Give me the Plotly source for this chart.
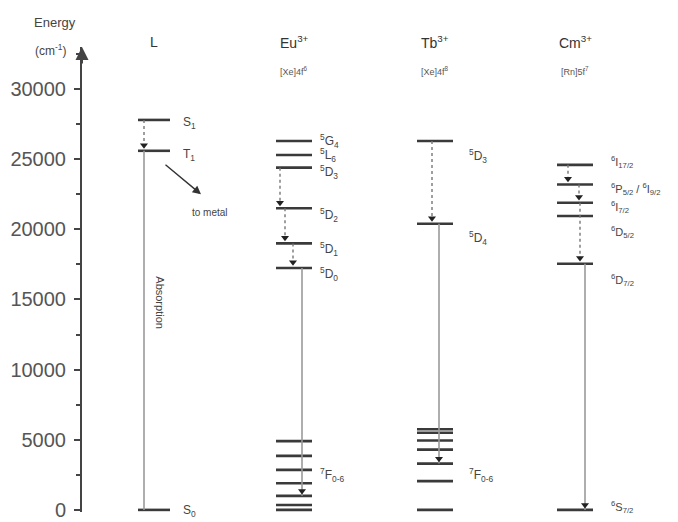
import plotly.graph_objects as go

# ---- data (energies in cm^-1) ----
tick_vals = [0, 5000, 10000, 15000, 20000, 25000, 30000]
minor_vals = [2500, 7500, 12500, 17500, 22500, 27500, 32500]
columns = ["L", "Eu<sup>3+</sup>", "Tb<sup>3+</sup>", "Cm<sup>3+</sup>"]
configs = ["", "[Xe]4f<sup>6</sup>", "[Xe]4f<sup>8</sup>", "[Rn]5f<sup>7</sup>"]

L_levels = [27800, 25600, 0]
L_labels = ["S<sub>1</sub>", "T<sub>1</sub>", "S<sub>0</sub>"]

Eu_levels = [26300, 25300, 24400, 21500, 19000, 17250, 4900, 3850, 2850, 1900, 1000, 350, 0]
Eu_labels = ["<sup>5</sup>G<sub>4</sub>", "<sup>5</sup>L<sub>6</sub>", "<sup>5</sup>D<sub>3</sub>",
             "<sup>5</sup>D<sub>2</sub>", "<sup>5</sup>D<sub>1</sub>", "<sup>5</sup>D<sub>0</sub>",
             "<sup>7</sup>F<sub>0-6</sub>"]
Eu_label_e = [26300, 25300, 24100, 21000, 18600, 16800, 2500]

Tb_levels = [26300, 20400, 5750, 5500, 4950, 4300, 3300, 2050, 0]
Tb_labels = ["<sup>5</sup>D<sub>3</sub>", "<sup>5</sup>D<sub>4</sub>", "<sup>7</sup>F<sub>0-6</sub>"]
Tb_label_e = [25200, 19400, 2500]

Cm_levels = [24600, 23200, 21900, 20950, 17550, 0]
Cm_labels = ["<sup>6</sup>I<sub>17/2</sub>", "<sup>6</sup>P<sub>5/2</sub> / <sup>6</sup>I<sub>9/2</sub>",
             "<sup>6</sup>I<sub>7/2</sub>", "<sup>6</sup>D<sub>5/2</sub>", "<sup>6</sup>D<sub>7/2</sub>",
             "<sup>6</sup>S<sub>7/2</sub>"]
Cm_label_e = [24800, 22900, 21600, 19800, 16400, 200]

# non-radiative (dashed/dotted) transitions: (column, x offset, from, to)
nonrad = [
    ("L", -10, 27800, 25600),
    ("Eu", -14, 24400, 21500),
    ("Eu", -9, 21500, 19000),
    ("Eu", -1, 19000, 17250),
    ("Tb", -3, 26300, 20400),
    ("Cm", -7, 24600, 23200),
    ("Cm", 4, 23200, 21900),
    ("Cm", 5, 21900, 17550),
]
# radiative / absorption (solid gray)
rad = [
    ("L", -10, 0, 25600, False),
    ("Eu", 8, 17250, 1000, True),
    ("Tb", 4, 20400, 3300, True),
    ("Cm", 10, 17550, 0, True),
]

# ---- layout helpers ----
centers = {"L": 154, "Eu": 294, "Tb": 435, "Cm": 575}
halfw = {"L": 16, "Eu": 18, "Tb": 18, "Cm": 18}
level_sets = {"L": L_levels, "Eu": Eu_levels, "Tb": Tb_levels, "Cm": Cm_levels}

FONT = "Liberation Sans, Arial, sans-serif"
DARK = "#3a3a3a"
GRAY = "#9a9a9a"

fig = go.Figure()

# level lines
for key, levels in level_sets.items():
    c, hw = centers[key], halfw[key]
    xs, ys = [], []
    for e in levels:
        xs += [c - hw, c + hw, None]
        ys += [e, e, None]
    fig.add_trace(go.Scatter(x=xs, y=ys, mode="lines",
                             line=dict(color=DARK, width=2.6), hoverinfo="skip"))

# radiative lines
for key, dx, e0, e1, head in rad:
    x = centers[key] + dx
    fig.add_trace(go.Scatter(x=[x, x], y=[e0, e1], mode="lines",
                             line=dict(color=GRAY, width=1.6), hoverinfo="skip"))
    if head:
        fig.add_trace(go.Scatter(x=[x], y=[e1 + 350], mode="markers",
                                 marker=dict(symbol="triangle-down", size=7, color="#222"),
                                 hoverinfo="skip"))

# non-radiative dashed arrows
for key, dx, e0, e1 in nonrad:
    x = centers[key] + dx
    fig.add_trace(go.Scatter(x=[x, x], y=[e0, e1 + 300], mode="lines",
                             line=dict(color="#777", width=1.4, dash="dot"), hoverinfo="skip"))
    fig.add_trace(go.Scatter(x=[x], y=[e1 + 400], mode="markers",
                             marker=dict(symbol="triangle-down", size=7, color="#222"),
                             hoverinfo="skip"))

ann = []

def add_labels(key, labels, energies, xoff=8, size=12):
    x = centers[key] + halfw[key] + xoff
    for t, e in zip(labels, energies):
        ann.append(dict(x=x, y=e, xref="x", yref="y", text=t, showarrow=False,
                        xanchor="left", yanchor="middle",
                        font=dict(family=FONT, size=size, color="#444")))

add_labels("L", L_labels, [27600, 25300, -100], xoff=11)
add_labels("Eu", Eu_labels, Eu_label_e, xoff=6)
add_labels("Tb", Tb_labels, Tb_label_e, xoff=14)
add_labels("Cm", Cm_labels, Cm_label_e, xoff=16, size=11)

# column headers & configurations (paper y)
for key, name, cfg in zip(["L", "Eu", "Tb", "Cm"], columns, configs):
    ann.append(dict(x=centers[key], y=1.01, xref="x", yref="paper", text=name, showarrow=False,
                    yanchor="middle", font=dict(family=FONT, size=14, color="#333")))
    if cfg:
        ann.append(dict(x=centers[key], y=0.948, xref="x", yref="paper", text=cfg, showarrow=False,
                        yanchor="middle", font=dict(family=FONT, size=9, color="#555")))

# to metal arrow
ann.append(dict(x=201, y=22500, xref="x", yref="y", ax=164, ay=24700, axref="x", ayref="y",
                showarrow=True, arrowhead=2, arrowsize=1.2, arrowwidth=1.4, arrowcolor="#333", text=""))
ann.append(dict(x=190, y=21200, xref="x", yref="y", text="to metal", showarrow=False,
                xanchor="left", font=dict(family=FONT, size=10, color="#444")))
# absorption text
ann.append(dict(x=160, y=14800, xref="x", yref="y", text="Absorption", showarrow=False,
                textangle=90, font=dict(family=FONT, size=11, color="#444")))
# axis title
ann.append(dict(x=-0.046, y=1.053, xref="paper", yref="paper", text="Energy", showarrow=False,
                xanchor="center", yanchor="middle", font=dict(family=FONT, size=13, color="#444")))
ann.append(dict(x=-0.053, y=0.993, xref="paper", yref="paper", text="(cm<sup>-1</sup>)",
                xanchor="center", yanchor="middle", showarrow=False,
                font=dict(family=FONT, size=12, color="#444")))
# axis arrowhead
ann.append(dict(x=0, y=1.0, xref="paper", yref="paper", ax=0, ay=18, showarrow=True,
                arrowhead=2, arrowsize=1.3, arrowwidth=2, arrowcolor="#444", text=""))

fig.update_layout(
    width=678, height=522,
    margin=dict(l=82, r=8, t=47, b=10),
    paper_bgcolor="white", plot_bgcolor="white",
    showlegend=False,
    annotations=ann,
    xaxis=dict(range=[82, 670], visible=False),
    yaxis=dict(range=[-150, 33000], tickvals=tick_vals, tickformat="d", ticks="outside", ticklen=6,
               tickwidth=1.5, tickcolor="#444", showline=True, linecolor="#444", linewidth=2,
               showgrid=False, zeroline=False, ticklabelstandoff=4, automargin=False,
               tickfont=dict(family=FONT, size=20, color="#555"),
               minor=dict(tickvals=minor_vals, ticks="outside",
                          ticklen=4, tickcolor="#444", tickwidth=1.5)),
)

fig.write_html("out.html", config={"displayModeBar": False},
               post_script="document.body.style.margin='0';")
